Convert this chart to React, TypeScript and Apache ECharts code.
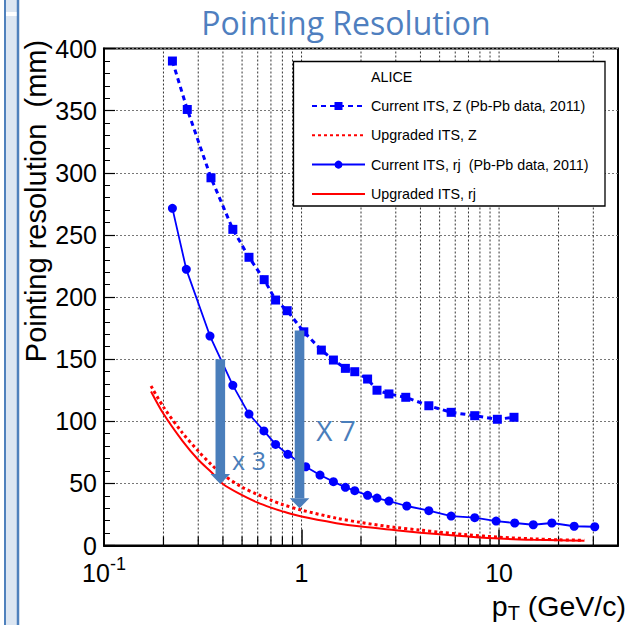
import React, { useEffect, useRef } from "react";
import * as echarts from "echarts";

// ---- data ----
const seriesNames = [
  "Current ITS, Z (Pb-Pb data, 2011)",
  "Upgraded ITS, Z",
  "Current ITS, rj  (Pb-Pb data, 2011)",
  "Upgraded ITS, rj",
];

const curZPt = [0.222, 0.264, 0.348, 0.449, 0.542, 0.647, 0.739, 0.846, 1.027, 1.26, 1.45, 1.667, 1.86, 2.16, 2.41, 2.77, 3.37, 4.41, 5.72, 7.53, 9.8, 11.9];
const curZVal = [390, 351, 296, 254.5, 232, 214, 197.6, 189, 172, 157.3, 149.3, 142.6, 139.9, 134, 125, 122, 119.3, 112.5, 107.2, 104.5, 101.6, 103.2];

const curRPt = [0.222, 0.261, 0.344, 0.449, 0.542, 0.645, 0.739, 0.852, 1.05, 1.24, 1.45, 1.667, 1.86, 2.16, 2.41, 2.77, 3.41, 4.41, 5.72, 7.53, 9.66, 12.0, 14.9, 18.5, 24.0, 30.5];
const curRVal = [271.4, 222.3, 168.6, 128.9, 105.8, 92.2, 81.4, 73.4, 63.4, 56.7, 51.4, 46.8, 44.1, 40.4, 38.2, 35.8, 31.8, 28, 23.7, 22.4, 19.7, 18.1, 16.7, 18.1, 15.5, 15.1];

const upPt = [0.173, 0.2, 0.25, 0.3, 0.35, 0.4, 0.5, 0.6, 0.7, 0.8, 1, 1.5, 2, 3, 4, 5, 7, 10, 15, 20, 27];
const upZVal = [128.4, 111.5, 90.5, 76, 65, 57, 47, 41, 36.5, 33, 28.5, 22, 18.5, 14.5, 12.4, 10.7, 8.6, 6.7, 5.3, 4.6, 4.2];
const upRVal = [124, 106, 84, 69, 59, 49.5, 40.5, 34.5, 30.5, 27.5, 23.3, 18, 15.2, 12.3, 10.3, 9, 7.2, 5.6, 4.6, 4.2, 3.9];

const gridXValues = [0.2, 0.3, 0.4, 0.5, 0.6, 0.7, 0.8, 0.9, 1, 2, 3, 4, 5, 6, 7, 8, 9, 10, 20, 30];
const majorXValues = [1, 10];

// arrows: [pT, top value, tip value]
const arrowData = [
  [0.388, 150, 49.5],
  [0.977, 173, 30],
];
const arrowLabels = ["x 3", "X 7"];

const xMin = 0.1;
const xMax = 40;
const yMin = 0;
const yMax = 400;
const yInterval = 50;

const BLUE = "#0000ff";
const RED = "#ff0000";
const ARROW = "#4a7ebb";
const TITLE = "#4f7fbf";
const FONT = "'Liberation Sans', Arial, sans-serif";

function pairs(xs: number[], ys: number[]) {
  return xs.map((x, i) => [x, ys[i]]);
}

export default function App() {
  const ref = useRef<HTMLDivElement>(null);
  useEffect(() => {
    if (!ref.current) return;
    const chart = echarts.init(ref.current, undefined, { renderer: "svg" });
    const option: any = {
      animation: false,
      backgroundColor: "#fff",
      grid: {
        left: 104,
        right: 13,
        top: 48.6,
        bottom: 79.5,
        show: true,
        borderColor: "#000",
        borderWidth: 2,
        backgroundColor: "transparent",
        z: 0,
      },
      xAxis: {
        type: "log",
        logBase: 10,
        min: xMin,
        max: xMax,
        axisLine: { show: true, onZero: false, lineStyle: { color: "#000", width: 2 } },
        axisTick: { show: true, inside: true, length: 16, lineStyle: { color: "#000", width: 1.5 } },
        splitLine: { show: false },
        minorTick: { show: false },
        axisLabel: {
          margin: 12,
          color: "#000",
          formatter: (v: number) => {
            const l = Math.log10(v);
            const r = Math.round(l);
            if (Math.abs(l - r) > 1e-6) return "";
            if (r < 0) return "{b|10}{s|" + r + "}";
            return "{b|" + Math.round(Math.pow(10, r)) + "}";
          },
          rich: {
            b: { fontSize: 25, lineHeight: 25, fontFamily: FONT, color: "#000", padding: [6, 0, 0, 0] },
            s: { fontSize: 18, lineHeight: 18, fontFamily: FONT, color: "#000", padding: [0, 0, 13, 0] },
          },
        },
      },
      yAxis: {
        type: "value",
        min: yMin,
        max: yMax,
        interval: yInterval,
        axisLine: { show: true, onZero: false, lineStyle: { color: "#000", width: 2 } },
        axisTick: { show: true, inside: true, length: 11, lineStyle: { color: "#000", width: 1.2 } },
        minorTick: { show: true, splitNumber: 5, length: 6, lineStyle: { color: "#000", width: 1 } },
        splitLine: { show: true, lineStyle: { color: "#777", width: 1, type: [2, 2] } },
        axisLabel: { margin: 7, fontSize: 25, fontFamily: FONT, color: "#000" },
      },
      legend: {
        left: 306,
        top: 94,
        orient: "vertical",
        itemWidth: 53,
        itemHeight: 10,
        itemGap: 15.3,
        z: 20,
        selectedMode: false,
        data: [
          { name: seriesNames[0] },
          { name: seriesNames[1], itemStyle: { opacity: 0 } },
          { name: seriesNames[2] },
          { name: seriesNames[3], itemStyle: { opacity: 0 } },
        ],
        textStyle: { fontSize: 14.3, fontFamily: FONT, color: "#000", padding: [0, 0, 0, 1] },
      },
      graphic: [
        // left decorative strip
        { type: "rect", z: 30, shape: { x: 4, y: 0, width: 15, height: 625 }, style: { fill: "#dce6f2" } },
        { type: "line", z: 31, shape: { x1: 5, y1: 0, x2: 5, y2: 625 }, style: { stroke: "#4f81bd", lineWidth: 2 } },
        { type: "line", z: 31, shape: { x1: 18, y1: 0, x2: 18, y2: 625 }, style: { stroke: "#4f81bd", lineWidth: 2.5 } },
        { type: "rect", z: 31, shape: { x: 6, y: 12, width: 10.5, height: 4 }, style: { fill: "#ffffff" } },
        // title
        {
          type: "text",
          z: 30,
          x: 346,
          y: 22,
          style: {
            text: "Pointing Resolution",
            fontFamily: "'Open Sans', 'Noto Sans', sans-serif",
            fontSize: 32,
            fill: TITLE,
            textAlign: "center",
            textVerticalAlign: "middle",
          },
        },
        // y axis name
        {
          type: "text",
          z: 30,
          x: 36,
          y: 201,
          rotation: Math.PI / 2,
          style: {
            text: "Pointing resolution  (mm)",
            fontFamily: FONT,
            fontSize: 29,
            fill: "#000",
            textAlign: "center",
            textVerticalAlign: "middle",
          },
        },
        // x axis name
        {
          type: "text",
          z: 30,
          x: 626,
          y: 592,
          style: {
            text: "{a|p}{t|T}{a| (GeV/c)}",
            textAlign: "right",
            textVerticalAlign: "top",
            rich: {
              a: { fontSize: 28.5, lineHeight: 28, fontFamily: FONT, fill: "#000" },
              t: { fontSize: 20, lineHeight: 20, fontFamily: FONT, fill: "#000", padding: [14, 0, 0, 0] },
            },
          },
        },
        // legend box
        {
          type: "rect",
          z: 15,
          shape: { x: 293.5, y: 61.5, width: 311.5, height: 144.5 },
          style: { fill: "#fff", stroke: "#000", lineWidth: 1.3 },
        },
        {
          type: "text",
          z: 20,
          x: 371,
          y: 77,
          style: { text: "ALICE", fontFamily: FONT, fontSize: 14.3, fill: "#000", textVerticalAlign: "middle" },
        },
        // arrow labels
        {
          type: "text",
          z: 30,
          x: 249,
          y: 460,
          style: {
            text: arrowLabels[0],
            fontFamily: "'Open Sans', sans-serif",
            fontSize: 25,
            fill: ARROW,
            textAlign: "center",
            textVerticalAlign: "middle",
          },
        },
        {
          type: "text",
          z: 30,
          x: 336,
          y: 430,
          style: {
            text: arrowLabels[1],
            fontFamily: "'Open Sans', sans-serif",
            fontSize: 28,
            fill: ARROW,
            textAlign: "center",
            textVerticalAlign: "middle",
          },
        },
      ],
      series: [
        {
          name: seriesNames[0],
          type: "line",
          z: 4,
          data: pairs(curZPt, curZVal),
          symbol: "rect",
          symbolSize: 9,
          itemStyle: { color: BLUE },
          lineStyle: { color: BLUE, width: 3, type: [5, 4] },
        },
        {
          name: seriesNames[1],
          type: "line",
          z: 3,
          data: pairs(upPt, upZVal),
          symbol: "none",
          smooth: 0.3,
          itemStyle: { color: RED },
          lineStyle: { color: RED, width: 3, type: [3, 3] },
        },
        {
          name: seriesNames[2],
          type: "line",
          z: 4,
          data: pairs(curRPt, curRVal),
          symbol: "circle",
          symbolSize: 9,
          itemStyle: { color: BLUE },
          lineStyle: { color: BLUE, width: 1.8 },
        },
        {
          name: seriesNames[3],
          type: "line",
          z: 3,
          data: pairs(upPt, upRVal),
          symbol: "none",
          smooth: 0.3,
          itemStyle: { color: RED },
          lineStyle: { color: RED, width: 2 },
        },
        // vertical dotted grid lines and minor ticks
        {
          type: "custom",
          z: 1,
          silent: true,
          data: gridXValues.map((x) => [x, majorXValues.indexOf(x) >= 0 ? 1 : 0]),
          renderItem: (params: any, api: any) => {
            const x = api.value(0);
            const major = api.value(1);
            const b = api.coord([x, yMin]);
            const t = api.coord([x, yMax]);
            const children: any[] = [
              {
                type: "line",
                shape: { x1: b[0], y1: b[1], x2: t[0], y2: t[1] },
                style: { stroke: "#333", lineWidth: 1, lineDash: [2, 2] },
              },
            ];
            if (!major) {
              children.push({
                type: "line",
                shape: { x1: b[0], y1: b[1], x2: b[0], y2: b[1] - 9 },
                style: { stroke: "#000", lineWidth: 1.2 },
              });
            }
            return { type: "group", children };
          },
        },
        // arrows
        {
          type: "custom",
          z: 8,
          silent: true,
          data: arrowData,
          renderItem: (params: any, api: any) => {
            const x = api.value(0);
            const top = api.coord([x, api.value(1)]);
            const tip = api.coord([x, api.value(2)]);
            const hw = 4.8;
            const headW = 9.8;
            const headH = 10;
            return {
              type: "group",
              children: [
                {
                  type: "rect",
                  shape: { x: top[0] - hw, y: top[1], width: hw * 2, height: tip[1] - headH - top[1] },
                  style: { fill: ARROW },
                },
                {
                  type: "polygon",
                  shape: {
                    points: [
                      [tip[0] - headW, tip[1] - headH],
                      [tip[0] + headW, tip[1] - headH],
                      [tip[0], tip[1]],
                    ],
                  },
                  style: { fill: ARROW },
                },
              ],
            };
          },
        },
      ],
    };
    chart.setOption(option);
    return () => chart.dispose();
  }, []);
  return (
    <div
      ref={ref}
      style={{ position: "fixed", left: 0, top: 0, width: 631, height: 625, background: "#fff" }}
    />
  );
}
